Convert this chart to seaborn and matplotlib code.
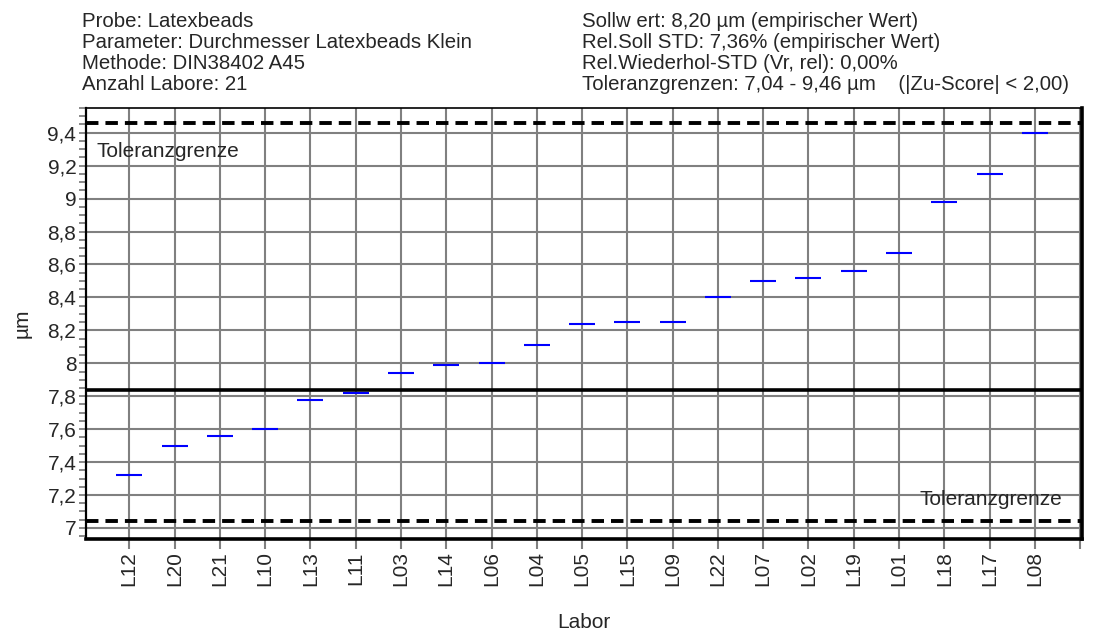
import matplotlib
matplotlib.use("Agg")
import matplotlib.pyplot as plt
from matplotlib.ticker import MultipleLocator, FuncFormatter
import seaborn as sns
import pandas as pd

# Laboratory results (sorted ascending)
labs = ["L12", "L20", "L21", "L10", "L13", "L11", "L03", "L14", "L06", "L04", "L05",
        "L15", "L09", "L22", "L07", "L02", "L19", "L01", "L18", "L17", "L08"]
values = [7.32, 7.50, 7.56, 7.60, 7.78, 7.82, 7.94, 7.99, 8.00, 8.11, 8.24,
          8.25, 8.25, 8.40, 8.50, 8.52, 8.56, 8.67, 8.98, 9.15, 9.40]

mean_line = 7.835
tol_low = 7.04
tol_high = 9.46

header_left = ["Probe: Latexbeads",
               "Parameter: Durchmesser Latexbeads Klein",
               "Methode: DIN38402 A45",
               "Anzahl Labore: 21"]
header_right = ["Sollw ert: 8,20 µm (empirischer Wert)",
                "Rel.Soll STD: 7,36% (empirischer Wert)",
                "Rel.Wiederhol-STD (Vr, rel): 0,00%",
                "Toleranzgrenzen: 7,04 - 9,46 µm    (|Zu-Score| < 2,00)"]

sns.set_style("white")
plt.rcParams["font.family"] = ["Liberation Sans", "DejaVu Sans"]
plt.rcParams["font.size"] = 15

df = pd.DataFrame({"Labor": labs, "Wert": values})

fig = plt.figure(figsize=(10.97, 6.35), dpi=100)
ax = fig.add_axes([86 / 1097, 1 - 539 / 635, (1082 - 86) / 1097, (539 - 108) / 635])

grid_color = "#808080"
ax.set_axisbelow(True)

sns.scatterplot(data=df, x="Labor", y="Wert", marker="_", s=370, color="#0000ff",
                linewidth=1.5, ax=ax, zorder=4, legend=False)

ax.axhline(mean_line, color="black", lw=2.6, zorder=3)
ax.axhline(tol_high, color="black", lw=2.8, ls=(0, (3.2, 1.8)), zorder=3)
ax.axhline(tol_low, color="black", lw=2.8, ls=(0, (3.2, 1.8)), zorder=3)

ax.set_xticks(range(len(labs) + 1))
ax.set_xticklabels(labs + [""], rotation=90)
ax.set_xlim(-0.955, len(labs) + 0.04)
ax.set_ylim(6.933, 9.55)

ax.yaxis.set_major_locator(MultipleLocator(0.2))
ax.yaxis.set_minor_locator(MultipleLocator(0.05))
ax.yaxis.set_major_formatter(FuncFormatter(lambda v, p: f"{v:.1f}".rstrip("0").rstrip(".").replace(".", ",")))

ax.grid(True, which="major", axis="both", color=grid_color, lw=1.5)
ax.tick_params(axis="y", which="both", direction="out", color=grid_color, width=1.3,
               length=5, labelsize=15, pad=2, left=True)
ax.tick_params(axis="x", which="major", direction="out", color=grid_color, width=1.5,
               length=7, labelsize=15, pad=2, bottom=True)

for side, lw in [("left", 1.6), ("top", 1.2), ("right", 2.6), ("bottom", 2.6)]:
    ax.spines[side].set_visible(True)
    ax.spines[side].set_color("black")
    ax.spines[side].set_linewidth(lw)

ax.set_xlabel("Labor", fontsize=15, va="center")
ax.xaxis.set_label_coords(0.5, (539 - 623) / 431)
ax.set_ylabel("µm", fontsize=15, va="center")
ax.yaxis.set_label_coords((22 - 86) / 996, 0.5)

ax.text(0.011, 0.9, "Toleranzgrenze", transform=ax.transAxes, fontsize=15,
        ha="left", va="center")
ax.text(0.98, 0.092, "Toleranzgrenze", transform=ax.transAxes, fontsize=15,
        ha="right", va="center")

baselines = [27, 48, 69, 90]
for txt, yb in zip(header_left, baselines):
    fig.text(82 / 1097, 1 - yb / 635, txt, fontsize=14.7, ha="left", va="baseline")
for txt, yb in zip(header_right, baselines):
    fig.text(582 / 1097, 1 - yb / 635, txt, fontsize=14.7, ha="left", va="baseline")

fig.savefig("out.png", dpi=100)
